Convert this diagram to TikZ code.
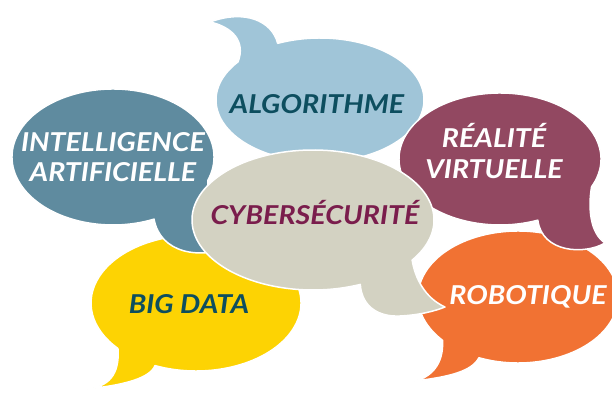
\documentclass[tikz,border=0pt]{standalone}
\usepackage{fontspec}
\setmainfont{Lato}[FakeStretch=1.1]
\usepackage{tikz}

\definecolor{bigyellow}{HTML}{FDD303}
\definecolor{roboorange}{HTML}{F17233}
\definecolor{iablue}{HTML}{5F8B9F}
\definecolor{algoblue}{HTML}{A0C5D8}
\definecolor{vrmaroon}{HTML}{924861}
\definecolor{cybergray}{HTML}{D3D2C2}
\definecolor{darkteal}{HTML}{0D4E5F}
\definecolor{darkplum}{HTML}{7A1D4C}

\begin{document}
\begin{tikzpicture}[
    x = 1pt, y = 1pt,
    bubble/.style = {fill=#1, draw=white, line width=1.5pt, line join=round},
    txt/.style = {font=\fontsize{26}{30.5}\selectfont\bfseries\itshape, align=center, inner sep=0pt}
]
    \useasboundingbox (0,0) rectangle (612,393);
    \clip (0,0) rectangle (612,393);

    % big data
    \path[bubble=bigyellow] (196,90) ++(247:105pt and 68pt)
        arc[start angle=247, end angle=582, x radius=105pt, y radius=68pt]
        .. controls (120,18) and (108,6) .. (87,4)
        .. controls (125,8) and (150,15) .. cycle;
    % robotique
    \path[bubble=roboorange] (518,96) ++(247:100pt and 66pt)
        arc[start angle=247, end angle=581, x radius=100pt, y radius=66pt]
        .. controls (444,28) and (430,15) .. (414,12)
        .. controls (450,16) and (472,22) .. cycle;
    % intelligence artificielle
    \path[bubble=iablue] (113,236) ++(-20:101pt and 68pt)
        arc[start angle=-20, end angle=294, x radius=101pt, y radius=68pt]
        .. controls (160,140) and (200,132) .. (235,148)
        .. controls (215,160) and (208,185) .. cycle;
    % algorithme
    \path[bubble=algoblue] (320,293) ++(142:104pt and 62pt)
        arc[start angle=142, end angle=474, x radius=104pt, y radius=62pt]
        .. controls (272,372) and (245,384) .. (210,371)
        .. controls (232,366) and (246,352) .. cycle;
    % realite virtuelle
    \path[bubble=vrmaroon] (500,234) ++(-25:101pt and 66pt)
        arc[start angle=-25, end angle=292, x radius=101pt, y radius=66pt]
        .. controls (542,140) and (585,138) .. (605,150)
        .. controls (590,160) and (588,185) .. cycle;
    % cybersecurite
    \path[bubble=cybergray] (313,173) ++(-35:121pt and 70pt)
        arc[start angle=-35, end angle=293, x radius=121pt, y radius=70pt]
        .. controls (362,85) and (380,76) .. (400,77)
        .. controls (420,78) and (435,82) .. (445,86)
        .. controls (425,95) and (415,115) .. cycle;

    \node[txt, text=darkteal] (bigdata) at (189,89) {BIG DATA};
    \node[txt, text=white] (robo) at (528,96) {ROBOTIQUE};
    \node[txt, text=white] (ia) at (113,236) {INTELLIGENCE\\ARTIFICIELLE};
    \node[txt, text=darkteal] (algo) at (317,289) {ALGORITHME};
    \node[txt, text=white] (vr) at (494,242) {RÉALITÉ\\VIRTUELLE};
    \node[txt, text=darkplum] (cyber) at (315,180) {CYBERSÉCURITÉ};
\end{tikzpicture}
\end{document}
